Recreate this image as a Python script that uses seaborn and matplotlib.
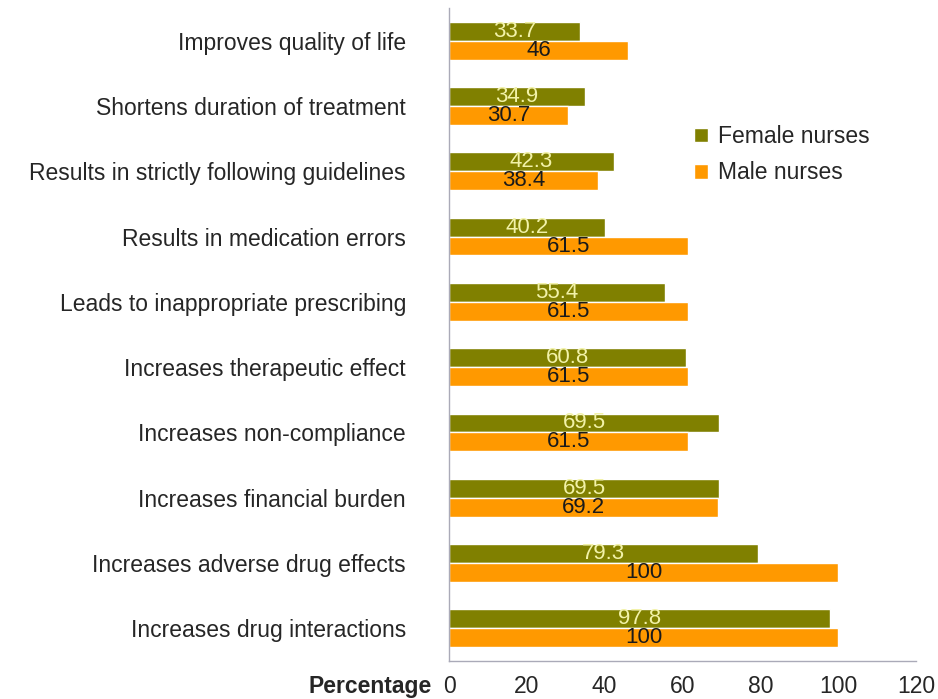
import matplotlib
matplotlib.use("Agg")
import matplotlib.pyplot as plt
import seaborn as sns
import pandas as pd
import numpy as np

categories = [
    "Improves quality of life",
    "Shortens duration of treatment",
    "Results in strictly following guidelines",
    "Results in medication errors",
    "Leads to inappropriate prescribing",
    "Increases therapeutic effect",
    "Increases non-compliance",
    "Increases financial burden",
    "Increases adverse drug effects",
    "Increases drug interactions",
]
female = [33.7, 34.9, 42.3, 40.2, 55.4, 60.8, 69.5, 69.5, 79.3, 97.8]
male = [46, 30.7, 38.4, 61.5, 61.5, 61.5, 61.5, 69.2, 100, 100]
series = ["Female nurses", "Male nurses"]
colors = ["#808000", "#FF9900"]
label_colors = ["#F2F2A8", "#1A1A1A"]
xticks = [0, 20, 40, 60, 80, 100, 120]

sns.set_style("white")
plt.rcParams["font.family"] = ["Liberation Sans", "DejaVu Sans"]

df = pd.DataFrame({
    "cat": categories * 2,
    "val": female + male,
    "grp": [series[0]] * len(categories) + [series[1]] * len(categories),
})

fig = plt.figure(figsize=(9.38, 6.99), dpi=100)
ax = fig.add_axes([449 / 938, 1 - 661 / 699, (916 - 449) / 938, (661 - 8) / 699])
sns.barplot(data=df, y="cat", x="val", hue="grp", hue_order=series,
            palette=colors, order=categories, orient="h", width=0.58,
            saturation=1, ax=ax, errorbar=None)

for cont, lc in zip(ax.containers, label_colors):
    ax.bar_label(cont, labels=[f"{v:g}" for v in cont.datavalues],
                 label_type="center", color=lc, fontsize=16)

ax.set_xlim(0, 120)
ax.set_ylim(len(categories) - 0.5, -0.5)
ax.set_xticks(xticks)
ax.set_xticklabels([str(t) for t in xticks], fontsize=16.5)
ax.set_ylabel("")
ax.set_xlabel("")
ax.set_yticks(range(len(categories)))
ax.set_yticklabels(categories, fontsize=16.5)
ax.set_yticks(np.arange(-0.5, len(categories) + 0.5, 1), minor=True)
ax.tick_params(axis="y", which="major", length=0, pad=31)
ax.tick_params(axis="y", which="minor", length=6, color="#AAAAB8", width=1)
ax.tick_params(axis="x", which="major", length=6, color="#AAAAB8", width=1, pad=4)

for s in ["top", "right"]:
    ax.spines[s].set_visible(False)
for s in ["left", "bottom"]:
    ax.spines[s].set_color("#AAAAB8")
    ax.spines[s].set_linewidth(1)

fig.text(432 / 938, 1 - 686 / 699, "Percentage", ha="right", va="center",
         fontsize=16.5, fontweight="bold")

leg = ax.legend(loc="upper left", bbox_to_anchor=(236 / 467, (661 - 116) / 653),
                frameon=False, fontsize=16.5, handlelength=0.6, handleheight=0.6,
                handletextpad=0.45, labelspacing=0.58, borderaxespad=0)

fig.savefig("out.png", dpi=100)
